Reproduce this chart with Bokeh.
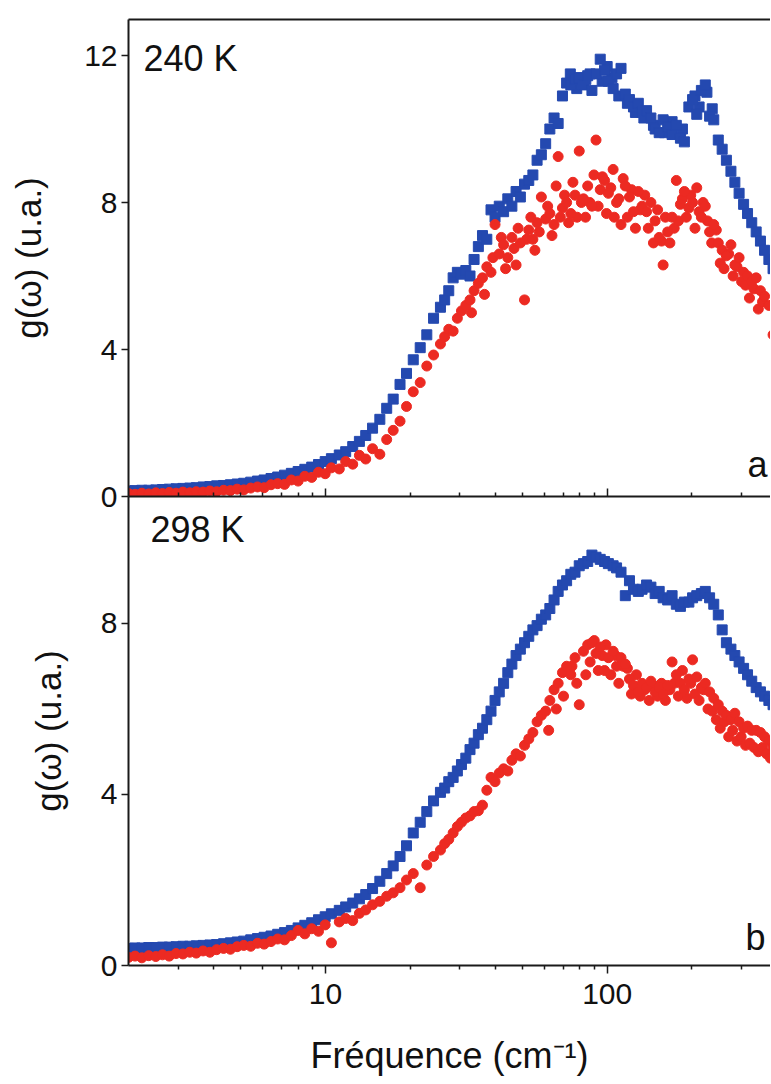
from bokeh.plotting import figure
from bokeh.models import (LogAxis, FixedTicker, Label, Range1d, BasicTickFormatter)
from bokeh.layouts import column
from bokeh.embed import file_html
from bokeh.resources import INLINE

# ---------------- data ----------------
freq = [
    2.00, 2.11, 2.23, 2.36, 2.50, 2.64, 2.79, 2.95, 3.12, 3.30,
    3.48, 3.68, 3.89, 4.11, 4.35, 4.60, 4.86, 5.13, 5.43, 5.74,
    6.06, 6.41, 6.77, 7.16, 7.57, 8.00, 8.45, 8.94, 9.45, 9.98,
    10.5, 11.2, 11.8, 12.5, 13.2, 13.9, 14.7, 15.6, 16.5, 17.4,
    18.4, 19.4, 20.5, 21.7, 22.9, 24.2, 25.6, 26.5, 27.4, 28.4,
    29.4, 30.4, 31.5, 32.6, 33.7, 34.9, 36.1, 37.4, 38.7, 40.0,
    41.4, 42.9, 44.4, 45.9, 47.5, 49.2, 50.9, 52.7, 54.5, 56.4,
    58.4, 60.5, 62.6, 64.8, 67.0, 69.4, 71.8, 74.3, 76.9, 79.6,
    82.4, 85.3, 88.3, 91.3, 94.5, 97.9, 101, 105, 108, 112,
    116, 120, 124, 129, 133, 138, 143, 148, 153, 158,
    164, 170, 176, 182, 188, 195, 201, 208, 216, 223,
    231, 239, 248, 256, 265, 275, 284, 294, 305, 315,
    326, 338, 350, 362, 375, 388,
]

g240_blue = [
    0.15, 0.16, 0.17, 0.17, 0.18, 0.19, 0.20, 0.21, 0.22, 0.23,
    0.24, 0.26, 0.27, 0.29, 0.30, 0.32, 0.34, 0.36, 0.39, 0.42,
    0.45, 0.49, 0.53, 0.58, 0.63, 0.68, 0.74, 0.80, 0.87, 0.95,
    1.03, 1.13, 1.22, 1.36, 1.50, 1.66, 1.86, 2.10, 2.40, 2.65,
    3.05, 3.35, 3.72, 4.05, 4.40, 4.85, 5.15, 5.35, 5.60, 5.95,
    6.10, 6.05, 6.15, 6.00, 6.45, 6.80, 7.10, 7.00, 7.80, 7.60,
    7.90, 7.75, 8.10, 7.90, 8.30, 8.15, 8.50, 8.60, 8.75, 9.15,
    9.30, 9.60, 10.0, 10.3, 10.15, 10.9, 11.25, 11.2, 11.35, 11.4,
    11.2, 11.45, 11.05, 11.5, 11.9, 11.6, 11.3, 11.1, 11.5, 11.65,
    10.95, 10.8, 10.6, 10.7, 10.45, 10.5, 10.3, 10.0, 9.9, 10.25,
    10.05, 9.85, 10.1, 9.75, 9.65, 10.6, 10.8, 10.4, 11.05, 11.2,
    10.35, 10.25, 9.7, 9.45, 9.15, 8.85, 8.55, 8.25, 7.95, 7.7,
    7.45, 7.2, 6.95, 6.7, 6.45, 6.2,
]
# additional scattered squares around the 240 K maximum
g240_blue_extra_f = [74.0, 78.0, 84.0, 87.0, 96.0, 100, 104, 110, 118, 126,
                     135, 146, 160, 170, 185, 205, 212, 226, 236]
g240_blue_extra = [11.5, 11.1, 11.35, 11.5, 11.3, 11.7, 11.4, 10.9, 10.7, 10.45,
                   10.3, 10.1, 9.9, 10.2, 10.0, 10.9, 10.6, 11.0, 10.55]

g240_red = [
    0.08, 0.06, 0.09, 0.07, 0.10, 0.08, 0.11, 0.09, 0.12, 0.10,
    0.13, 0.12, 0.15, 0.13, 0.17, 0.16, 0.20, 0.18, 0.23, 0.26,
    0.24, 0.32, 0.35, 0.33, 0.45, 0.42, 0.55, 0.52, 0.66, 0.62,
    0.78, 0.75, 0.95, 0.88, 1.12, 1.02, 1.30, 1.15, 1.55, 1.80,
    2.05, 2.45, 2.85, 3.10, 3.55, 3.85, 4.15, 4.35, 4.55, 4.50,
    4.85, 5.05, 5.20, 5.35, 5.60, 5.80, 5.95, 6.25, 6.10, 7.40,
    6.60, 6.85, 6.50, 7.05, 6.30, 6.90, 5.35, 7.25, 7.00, 7.45,
    8.15, 7.55, 7.70, 7.40, 9.25, 7.85, 8.00, 7.70, 8.20, 9.40,
    8.10, 8.45, 7.90, 9.70, 8.35, 8.60, 8.25, 8.90, 8.00, 7.40,
    8.45, 8.15, 7.75, 8.30, 7.90, 7.75, 8.00, 7.50, 7.05, 6.30,
    7.20, 7.60, 8.60, 7.95, 8.30, 7.85, 8.00, 8.40, 7.60, 7.90,
    7.20, 7.40, 6.90, 6.70, 6.55, 6.85, 6.30, 6.50, 6.10, 6.00,
    5.85, 5.95, 5.60, 5.45, 5.20, 4.40,
]
# additional scattered circles (240 K)
g240_red_extra_f = [33.0, 36.7, 39.3, 42.1, 43.6, 46.7, 48.3, 51.8, 53.6, 55.4,
                    57.4, 61.5, 63.7, 65.9, 68.2, 70.6, 73.0, 75.6, 78.2, 81.0,
                    83.8, 86.8, 89.8, 92.9, 96.2, 99.5, 103, 106, 110, 114,
                    118, 122, 126, 131, 136, 140, 146, 151, 156, 161,
                    167, 173, 179, 185, 191, 198, 205, 212, 219, 227,
                    235, 244, 252, 260, 270, 280, 289, 300, 310, 320,
                    332, 344, 356]
g240_red_extra = [5.0, 5.5, 6.5, 7.05, 6.2, 6.75, 7.3, 7.0, 7.6, 6.7,
                  7.2, 7.9, 7.1, 8.45, 7.6, 8.2, 7.45, 8.55, 7.6, 8.0,
                  7.6, 8.0, 8.75, 7.9, 8.7, 7.7, 8.4, 7.6, 8.1, 8.65,
                  7.6, 8.35, 7.3, 7.8, 8.2, 7.3, 6.9, 7.8, 6.95, 7.6,
                  6.9, 7.3, 7.5, 8.1, 7.6, 8.2, 7.3, 7.75, 8.0, 7.5,
                  6.9, 7.25, 6.35, 6.2, 6.6, 6.0, 6.25, 5.85, 5.75, 5.4,
                  5.65, 5.1, 5.3]

g298_blue = [
    0.40, 0.41, 0.41, 0.42, 0.42, 0.43, 0.43, 0.44, 0.45, 0.45,
    0.46, 0.47, 0.48, 0.49, 0.51, 0.53, 0.55, 0.57, 0.60, 0.63,
    0.66, 0.69, 0.73, 0.77, 0.82, 0.88, 0.94, 1.00, 1.07, 1.14,
    1.21, 1.29, 1.37, 1.46, 1.56, 1.66, 1.80, 1.97, 2.15, 2.33,
    2.55, 2.80, 3.10, 3.35, 3.60, 3.85, 4.05, 4.15, 4.30, 4.40,
    4.55, 4.70, 4.85, 5.05, 5.20, 5.40, 5.55, 5.75, 5.95, 6.20,
    6.40, 6.60, 6.85, 7.05, 7.25, 7.40, 7.55, 7.70, 7.85, 7.95,
    8.10, 8.20, 8.35, 8.55, 8.75, 8.90, 9.00, 9.15, 9.20, 9.35,
    9.40, 9.45, 9.60, 9.55, 9.50, 9.45, 9.40, 9.35, 9.30, 9.20,
    8.65, 9.00, 8.80, 8.75, 8.80, 8.90, 8.85, 8.70, 8.75, 8.60,
    8.55, 8.65, 8.45, 8.40, 8.50, 8.50, 8.60, 8.65, 8.70, 8.75,
    8.60, 8.45, 8.20, 7.85, 7.55, 7.40, 7.25, 7.10, 6.95, 6.80,
    6.65, 6.50, 6.40, 6.30, 6.20, 6.10,
]

g298_red = [
    0.19, 0.22, 0.18, 0.23, 0.21, 0.25, 0.22, 0.28, 0.27, 0.31,
    0.29, 0.34, 0.31, 0.37, 0.40, 0.38, 0.44, 0.47, 0.45, 0.52,
    0.50, 0.56, 0.62, 0.60, 0.70, 0.82, 0.74, 0.86, 0.80, 0.95,
    0.53, 1.02, 1.10, 1.05, 1.22, 1.30, 1.42, 1.50, 1.62, 1.70,
    1.82, 2.00, 2.15, 1.82, 2.35, 2.55, 2.70, 2.85, 2.95, 3.10,
    3.25, 3.35, 3.45, 3.50, 3.60, 3.62, 3.75, 4.10, 4.40, 4.30,
    4.50, 4.60, 4.55, 4.80, 4.95, 4.90, 5.15, 5.30, 5.45, 5.70,
    5.85, 5.95, 6.20, 6.45, 6.60, 6.85, 7.00, 6.80, 7.20, 6.10,
    7.35, 7.50, 7.55, 7.30, 7.45, 6.90, 7.20, 7.35, 7.00, 7.20,
    7.05, 6.70, 6.55, 6.40, 6.60, 6.50, 6.65, 6.40, 6.50, 6.35,
    6.55, 7.10, 6.80, 6.60, 6.45, 6.70, 7.15, 6.75, 6.50, 6.60,
    6.40, 6.25, 6.10, 5.95, 5.85, 5.75, 5.90, 5.70, 5.55, 5.60,
    5.50, 5.50, 5.45, 5.35, 5.25, 5.10,
]
# additional scattered circles (298 K)
g298_red_extra_f = [62.0, 66.0, 70.0, 75.0, 78.0, 84.0, 87.0, 90.0, 93.0, 96.0,
                    99.0, 103, 107, 110, 114, 118, 122, 127, 131, 136,
                    141, 146, 151, 156, 161, 167, 173, 179, 185, 192,
                    198, 205, 212, 220, 228, 236, 244, 252, 261, 270,
                    279, 289, 299, 310, 321, 332, 344, 356, 368, 380]
g298_red_extra = [5.5, 6.0, 6.3, 7.0, 6.6, 6.8, 7.1, 7.6, 6.9, 7.25,
                  7.5, 6.8, 7.25, 6.6, 7.0, 6.95, 6.35, 6.8, 6.3, 6.45,
                  6.2, 6.55, 6.3, 6.6, 6.2, 6.45, 6.6, 6.3, 6.9, 6.25,
                  6.6, 6.35, 6.2, 6.45, 6.0, 5.95, 5.75, 5.55, 5.7, 5.35,
                  5.5, 5.25, 5.35, 5.15, 5.2, 5.1, 5.0, 5.1, 4.95, 4.85]

x_major = [10, 100]
x_minor = [3, 4, 5, 6, 7, 8, 9, 20, 30, 40, 50, 60, 70, 80, 90, 200, 300]
y_ticks_top = [0, 4, 8, 12]
y_ticks_bot = [0, 4, 8]

# ---------------- style ----------------
FONT = "Liberation Sans"
BLUE = "#2449b0"
RED = "#ec2a22"
AXC = "#1a1a1a"
TXT = "#111111"
W = 770
X0, X1 = 2.0, 380.0
OVERLAP = 18
YLABEL = "g(\u03c9) (u.a.)"


def style_left(ax, ticks, label_standoff):
    ax.ticker = FixedTicker(ticks=ticks)
    ax.axis_line_color = AXC
    ax.axis_line_width = 2
    ax.major_tick_line_color = AXC
    ax.major_tick_line_width = 1.5
    ax.major_tick_out = 7
    ax.major_tick_in = 0
    ax.minor_tick_line_color = None
    ax.major_label_text_font = FONT
    ax.major_label_text_font_size = "30px"
    ax.major_label_text_color = TXT
    ax.major_label_standoff = 4
    ax.axis_label = YLABEL
    ax.axis_label_text_font = FONT
    ax.axis_label_text_font_size = "35px"
    ax.axis_label_text_font_style = "normal"
    ax.axis_label_text_color = TXT
    ax.axis_label_standoff = label_standoff


def base_fig(height, ymax, top_border, bottom_border):
    p = figure(width=W, height=height, x_axis_type="log",
               x_range=Range1d(X0, X1), y_range=Range1d(0, ymax),
               output_backend="svg", toolbar_location=None,
               min_border_left=128, min_border_right=0,
               min_border_top=top_border, min_border_bottom=bottom_border)
    p.outline_line_color = None
    p.grid.visible = False
    return p


def text(p, x, y, s, size="36px"):
    p.add_layout(Label(x=x, y=y, text=s, text_font=FONT, text_font_size=size,
                       text_color=TXT, text_align="left",
                       text_baseline="alphabetic"))


# ---------------- top panel (240 K) ----------------
p1 = base_fig(19 + 477 + OVERLAP, 12.98, 19, OVERLAP)
p1.background_fill_color = "white"
p1.border_fill_color = "white"
p1.scatter(g240_blue_extra_f, g240_blue_extra, marker="square", size=10,
           fill_color=BLUE, line_color=BLUE)
p1.scatter(freq, g240_blue, marker="square", size=10,
           fill_color=BLUE, line_color=BLUE)
p1.scatter(g240_red_extra_f, g240_red_extra, marker="circle", size=10,
           fill_color=RED, line_color=RED)
p1.scatter(freq, g240_red, marker="circle", size=10,
           fill_color=RED, line_color=RED)

style_left(p1.yaxis[0], y_ticks_top, 33)

xa = p1.xaxis[0]
xa.ticker = FixedTicker(ticks=x_major, minor_ticks=x_minor)
xa.axis_line_color = AXC
xa.axis_line_width = 2
xa.major_tick_line_color = AXC
xa.major_tick_line_width = 1.5
xa.minor_tick_line_color = AXC
xa.minor_tick_line_width = 1.5
xa.major_tick_in = 8
xa.major_tick_out = 0
xa.minor_tick_in = 4
xa.minor_tick_out = 0
xa.major_label_text_color = None
xa.major_label_text_font_size = "0px"
xa.major_label_standoff = 0

top_line = LogAxis(ticker=FixedTicker(ticks=[]), axis_line_color=AXC,
                   axis_line_width=2, major_tick_line_color=None,
                   minor_tick_line_color=None, major_label_text_color=None,
                   major_label_text_font_size="0px", major_label_standoff=0)
p1.add_layout(top_line, "above")

text(p1, 2.261, 11.92, "240 K")
text(p1, 315, 0.87, "a")

# ---------------- bottom panel (298 K) ----------------
p2 = base_fig(469 + 118, 10.97, 0, 118)
p2.background_fill_color = None
p2.border_fill_color = None
p2.styles = {"margin-top": "-%dpx" % OVERLAP}
p2.scatter(freq, g298_blue, marker="square", size=10,
           fill_color=BLUE, line_color=BLUE)
p2.scatter(g298_red_extra_f, g298_red_extra, marker="circle", size=10,
           fill_color=RED, line_color=RED)
p2.scatter(freq, g298_red, marker="circle", size=10,
           fill_color=RED, line_color=RED)

style_left(p2.yaxis[0], y_ticks_bot, 30)

xb = p2.xaxis[0]
xb.ticker = FixedTicker(ticks=x_major, minor_ticks=x_minor)
xb.formatter = BasicTickFormatter(use_scientific=False)
xb.major_label_overrides = {10: "10", 100: "100"}
xb.axis_line_color = AXC
xb.axis_line_width = 2
xb.major_tick_line_color = AXC
xb.major_tick_line_width = 1.5
xb.minor_tick_line_color = AXC
xb.minor_tick_line_width = 1.5
xb.major_tick_in = 0
xb.major_tick_out = 8
xb.minor_tick_in = 0
xb.minor_tick_out = 4
xb.major_label_text_font = FONT
xb.major_label_text_font_size = "30px"
xb.major_label_text_color = TXT
xb.major_label_standoff = 10
xb.axis_label = "Fr\u00e9quence (cm\u207b\u00b9)"
xb.axis_label_text_font = FONT
xb.axis_label_text_font_size = "36px"
xb.axis_label_text_font_style = "normal"
xb.axis_label_text_color = TXT
xb.axis_label_standoff = 28

text(p2, 2.394, 10.2, "298 K")
text(p2, 310, 0.65, "b")

layout = column(p1, p2, spacing=0)

open("out.html", "w").write(file_html(layout, INLINE))
